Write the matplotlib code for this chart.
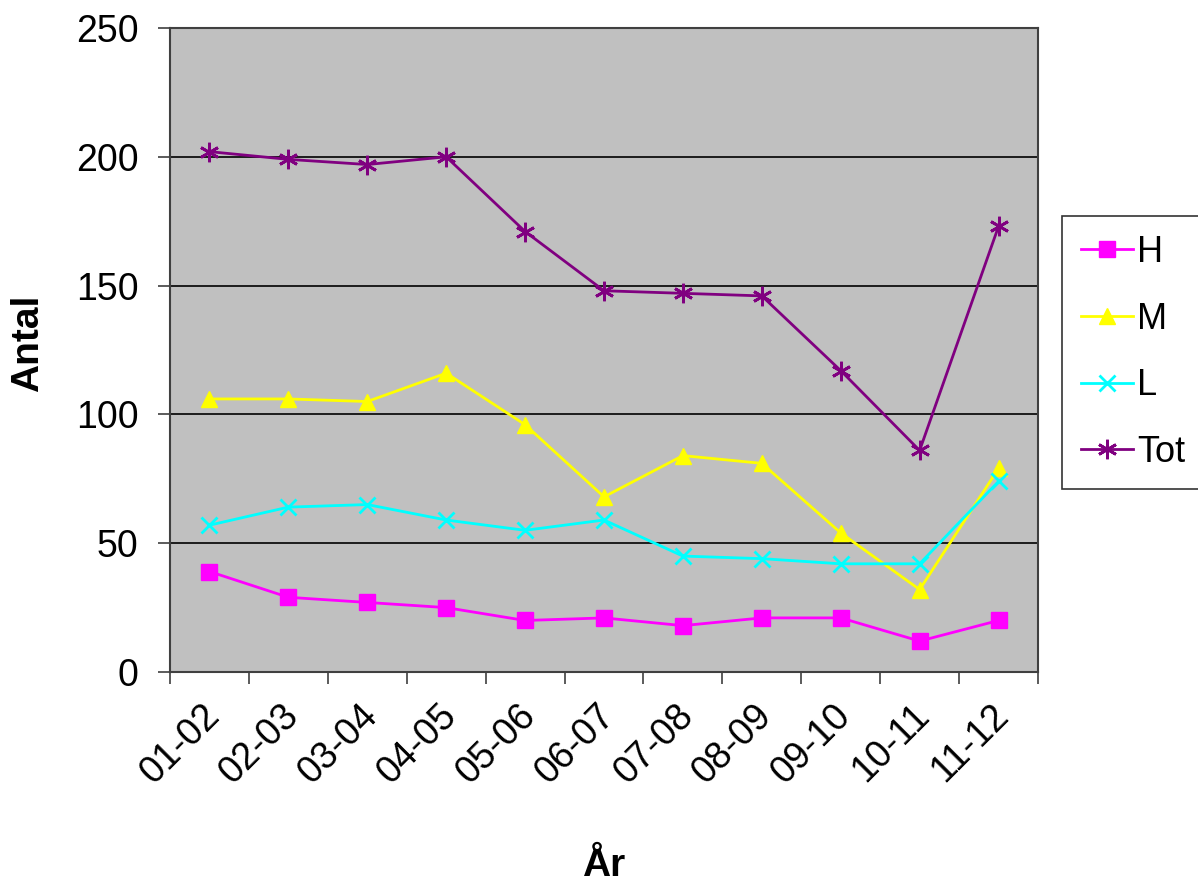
import matplotlib
matplotlib.use("Agg")
import matplotlib.pyplot as plt
import matplotlib.transforms as mtransforms
import numpy as np

plt.rcParams['font.family'] = ['Liberation Sans', 'DejaVu Sans']

categories = ["01-02", "02-03", "03-04", "04-05", "05-06", "06-07",
              "07-08", "08-09", "09-10", "10-11", "11-12"]
H = [39, 29, 27, 25, 20, 21, 18, 21, 21, 12, 20]
M = [106, 106, 105, 116, 96, 68, 84, 81, 54, 32, 79]
L = [57, 64, 65, 59, 55, 59, 45, 44, 42, 42, 74]
Tot = [202, 199, 197, 200, 171, 148, 147, 146, 117, 86, 173]
yticks = [0, 50, 100, 150, 200, 250]

fig = plt.figure(figsize=(11.98, 8.85), dpi=100)
ax = fig.add_axes([170/1198, 1-672/885, (1038-170)/1198, (672-28)/885])
ax.set_facecolor('#C0C0C0')

x = np.arange(len(categories))
ax.plot(x, H, color='#FF00FF', marker='s', markersize=11, lw=2, label='H', zorder=4)
ax.plot(x, M, color='#FFFF00', marker='^', markersize=12, lw=2, label='M', zorder=4)
ax.plot(x, L, color='#00FFFF', marker='x', markersize=11, mew=2, lw=2, label='L', zorder=4)
ax.plot(x, Tot, color='#800080', marker=(6, 2, 0), markersize=14, mew=2, lw=2, label='Tot', zorder=4)

ax.set_ylim(0, 250)
ax.set_xlim(-0.5, len(categories) - 0.5)
ax.set_yticks(yticks)
ax.set_yticklabels([str(v) for v in yticks], fontsize=27)
ax.yaxis.grid(True, color='black', lw=1.2)
ax.set_axisbelow(True)

ax.set_xticks(np.arange(-0.5, len(categories), 1.0))
ax.set_xticklabels([])
ax.set_xticks(x, minor=True)
ax.set_xticklabels(categories, minor=True, rotation=45, ha='right',
                   rotation_mode='anchor', fontsize=27)
ax.tick_params(axis='x', which='minor', length=0, pad=18)
ax.tick_params(axis='both', which='major', length=8.6, width=1.2, color='#404040', direction='out')
ax.tick_params(axis='y', pad=14)
offset = mtransforms.ScaledTranslation(-8/100, 0, fig.dpi_scale_trans)
for lab in ax.get_xticklabels(minor=True):
    lab.set_transform(lab.get_transform() + offset)

for s in ax.spines.values():
    s.set_color('#404040')
    s.set_linewidth(1.5)

fig.text(28/1198, 1-343/885, 'Antal', rotation=90, fontsize=28, fontweight='bold',
         ha='center', va='center')
fig.text(605/1198, 1-866/885, 'År', fontsize=28, fontweight='bold',
         ha='center', va='center')

leg = ax.legend(loc='upper left', bbox_to_anchor=(1062/1198, 1-216/885),
                bbox_transform=fig.transFigure, fontsize=26, frameon=True,
                fancybox=False, edgecolor='black', handlelength=1.45,
                labelspacing=0.88, borderpad=0.52, handletextpad=0.12,
                borderaxespad=0)
leg.get_frame().set_linewidth(1.2)

fig.savefig('out.png', dpi=100)
